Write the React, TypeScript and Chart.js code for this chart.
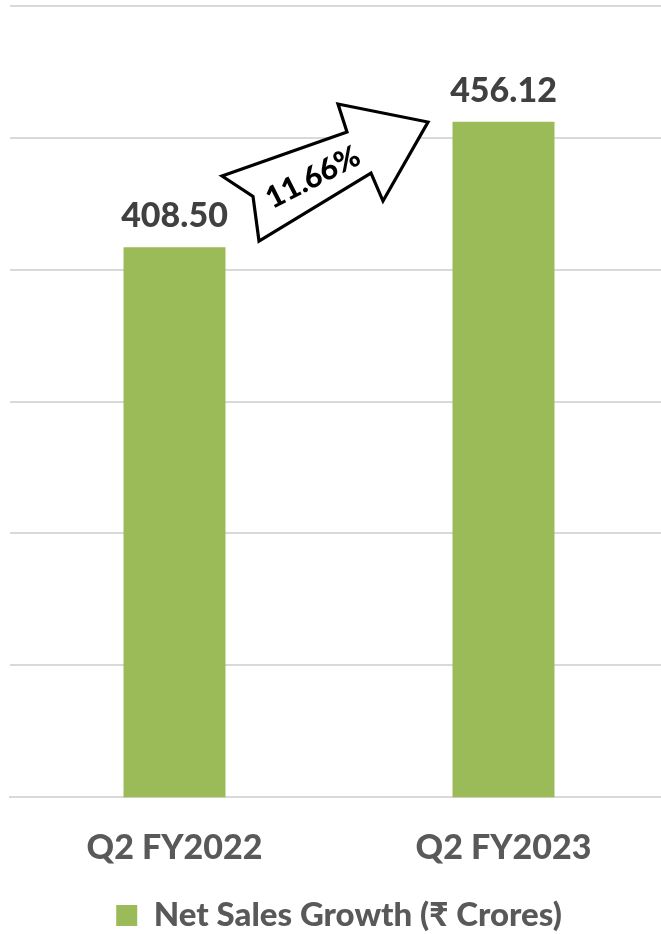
import React, { useEffect, useRef } from 'react';
import { Chart, registerables } from 'chart.js';

Chart.register(...registerables);

const categories = ['Q2 FY2022', 'Q2 FY2023'];
const netSales = [408.5, 456.12];
const valueLabels = ['408.50', '456.12'];
const growthLabel = '11.66%';
const seriesLabel = 'Net Sales Growth (\u20B9 Crores)';
const yMin = 200;
const yMax = 500;
const yStep = 50;

const FONT = "Lato, 'Open Sans', 'Noto Sans', 'DejaVu Sans', sans-serif";
const BAR = '#9BBB59';

// arrow outline relative to the midpoint between the two bar tops
const arrowShape: [number, number][] = [
  [-117, -8.5],
  [8, -52.5],
  [-1, -80.5],
  [89, -62.5],
  [44, 16.5],
  [32, -11.5],
  [-80, 56.5],
  [-86, 11.8],
];

const overlayPlugin = {
  id: 'overlay',
  afterDatasetsDraw(chart: any) {
    const ctx = chart.ctx;
    const meta = chart.getDatasetMeta(0);
    const ys = chart.scales.y;
    const bars = meta.data;
    const cx = (bars[0].x + bars[1].x) / 2;
    const cy = ys.getPixelForValue((netSales[0] + netSales[1]) / 2);

    ctx.save();
    ctx.beginPath();
    arrowShape.forEach(([dx, dy], i) => {
      if (i === 0) ctx.moveTo(cx + dx, cy + dy);
      else ctx.lineTo(cx + dx, cy + dy);
    });
    ctx.closePath();
    ctx.fillStyle = '#ffffff';
    ctx.fill();
    ctx.lineWidth = 3.2;
    ctx.lineJoin = 'miter';
    ctx.strokeStyle = '#000000';
    ctx.stroke();

    ctx.translate(cx - 26, cy - 7);
    ctx.rotate((-27 * Math.PI) / 180);
    ctx.fillStyle = '#000000';
    ctx.font = `900 30px ${FONT}`;
    ctx.textAlign = 'center';
    ctx.textBaseline = 'middle';
    ctx.fillText(growthLabel, 0, 0);
    ctx.restore();

    ctx.save();
    ctx.fillStyle = '#404040';
    ctx.font = `900 34px ${FONT}`;
    ctx.textAlign = 'center';
    ctx.textBaseline = 'alphabetic';
    bars.forEach((b: any, i: number) => {
      ctx.fillText(valueLabels[i], b.x, b.y - 20);
    });
    ctx.restore();
  },
};

export default function App() {
  const ref = useRef<HTMLCanvasElement>(null);
  useEffect(() => {
    if (!ref.current) return;
    const chart = new Chart(ref.current, {
      type: 'bar',
      data: {
        labels: categories,
        datasets: [
          {
            label: seriesLabel,
            data: netSales,
            backgroundColor: BAR,
            borderWidth: 0,
            barPercentage: 0.31,
            categoryPercentage: 1,
          },
        ],
      },
      options: {
        animation: false,
        responsive: true,
        maintainAspectRatio: false,
        layout: { padding: { left: 10, right: 0, top: 6, bottom: -8 } },
        plugins: {
          tooltip: { enabled: false },
          legend: {
            display: true,
            position: 'bottom',
            labels: {
              color: '#595959',
              font: { family: FONT, size: 33, weight: '900', lineHeight: 0.8 },
              boxWidth: 21,
              boxHeight: 21,
              padding: 1,
            },
          },
        },
        scales: {
          x: {
            grid: { display: false, drawTicks: false },
            border: { display: true, color: '#d9d9d9', width: 2 },
            ticks: {
              color: '#595959',
              font: { family: FONT, size: 34, weight: '900' },
              padding: 30,
            },
          },
          y: {
            min: yMin,
            max: yMax,
            ticks: { display: false, stepSize: yStep },
            grid: { color: '#d9d9d9', lineWidth: 2, drawTicks: false },
            border: { display: false },
          },
        },
      },
      plugins: [overlayPlugin],
    });
    return () => chart.destroy();
  }, []);
  return (
    <div style={{ position: 'fixed', left: 0, top: 0, width: 668, height: 934 }}>
      <canvas ref={ref} />
    </div>
  );
}
